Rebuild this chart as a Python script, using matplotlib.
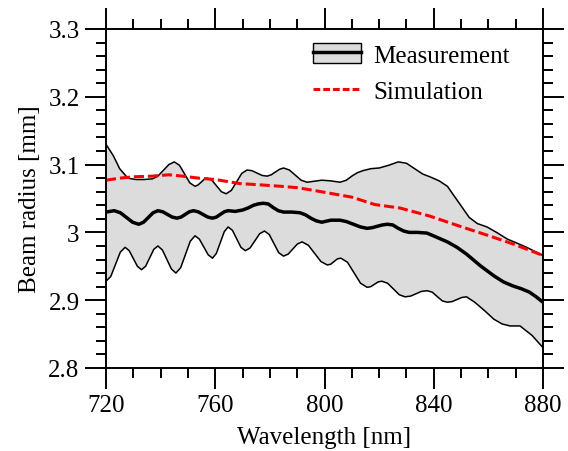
import matplotlib
matplotlib.use("Agg")
import matplotlib.pyplot as plt
from matplotlib.patches import Patch
from matplotlib.lines import Line2D
from matplotlib.ticker import MultipleLocator, FormatStrFormatter

plt.rcParams['font.family'] = ['Liberation Serif', 'DejaVu Serif']

wl_upper = [720, 722.7, 725, 728, 731, 734, 737, 739, 741, 743, 745, 746.9, 748.8,
            750.7, 752.6, 753.7, 754.8, 755.9, 757, 758.75, 760.5, 762.25, 764,
            765.9, 767.8, 769.7, 771.6, 773.45, 775.3, 777.15, 779, 780.5, 782,
            783.5, 785, 787.15, 789.3, 791.45, 793.6, 796.3, 799, 802.3, 805.7, 808,
            810, 812, 814, 817, 820, 823.5, 827, 830, 833, 836, 838.6, 842, 845,
            849, 853, 856, 859.5, 863, 867, 870, 874, 877, 880]
r_upper = [3.130, 3.113, 3.094, 3.080, 3.078, 3.078, 3.079, 3.083, 3.0915, 3.100,
           3.104, 3.099, 3.086, 3.073, 3.068, 3.070, 3.074, 3.078, 3.080, 3.077,
           3.0685, 3.060, 3.057, 3.062, 3.0745, 3.087, 3.092, 3.091, 3.0875, 3.084,
           3.083, 3.085, 3.089, 3.093, 3.095, 3.092, 3.0845, 3.077, 3.074, 3.0755,
           3.077, 3.076, 3.074, 3.077, 3.083, 3.088, 3.091, 3.094, 3.095, 3.099,
           3.104, 3.102, 3.094, 3.086, 3.082, 3.076, 3.068, 3.045, 3.022, 3.013,
           3.008, 3.000, 2.990, 2.985, 2.978, 2.972, 2.966]

# measurement band, lower edge
wl_lower = [720, 721.75, 723.5, 725.25, 727, 728.5, 730, 731.5, 733, 734.5, 736,
            737.5, 739, 740.65, 742.3, 743.95, 745.6, 747.35, 749.1, 750.85, 752.6,
            754.2, 755.8, 757.4, 759, 760.4, 761.85, 763.3, 764.7, 766.3, 767.85,
            769.4, 771, 772.75, 774.5, 776.25, 778, 779.75, 781.5, 783.25, 785,
            786.7, 788.4, 790.1, 791.8, 794.1, 796.4, 798.7, 801, 802.25, 803.5,
            804.75, 806, 808.4, 810.8, 813.2, 815.6, 816.95, 818.3, 819.65, 821,
            823.1, 825.25, 827.4, 829.5, 831.5, 833.5, 835.5, 837.5, 839.4, 841.25,
            843.1, 845, 846.75, 848.5, 850.25, 852, 855, 858.5, 862, 865, 868,
            871.6, 876, 880]
r_lower = [2.928, 2.935, 2.953, 2.971, 2.978, 2.973, 2.9615, 2.950, 2.945, 2.950,
           2.9625, 2.975, 2.980, 2.974, 2.960, 2.946, 2.940, 2.948, 2.9675, 2.987,
           2.995, 2.990, 2.9785, 2.967, 2.962, 2.969, 2.985, 3.001, 3.008, 3.003,
           2.9905, 2.978, 2.973, 2.977, 2.9875, 2.998, 3.002, 2.997, 2.9835, 2.970,
           2.965, 2.968, 2.9755, 2.983, 2.986, 2.981, 2.969, 2.957, 2.952, 2.953,
           2.957, 2.961, 2.962, 2.956, 2.9405, 2.925, 2.919, 2.920, 2.9235, 2.927,
           2.928, 2.925, 2.9165, 2.908, 2.905, 2.906, 2.9095, 2.913, 2.914, 2.912,
           2.9055, 2.899, 2.897, 2.898, 2.901, 2.904, 2.905, 2.897, 2.885, 2.872,
           2.865, 2.862, 2.862, 2.848, 2.830]

# measurement mean
wl_mean = [720, 723, 725.25, 727.5, 729.75, 732, 733.75, 735.5, 737.25, 739,
           740.75, 742.5, 744.25, 746, 747.5, 749, 750.5, 752, 753.75, 755.5,
           757.25, 759, 760.4, 761.85, 763.3, 764.7, 767.3, 770, 772, 774, 775.7,
           777.5, 779.4, 781.25, 783.1, 785, 788, 791, 793, 795, 797, 799, 802.3,
           805.7, 808, 810.6, 813.2, 815.6, 817.5, 819.3, 821.2, 823, 825, 827, 829,
           831, 834, 837.5, 841, 845, 848.5, 852, 857, 862, 865.5, 869, 872, 875,
           877.5, 880]
r_mean = [3.030, 3.032, 3.029, 3.022, 3.015, 3.012, 3.015, 3.022, 3.029, 3.032,
          3.0304, 3.0265, 3.0226, 3.021, 3.0226, 3.0265, 3.0304, 3.032, 3.0304,
          3.0265, 3.0226, 3.021, 3.0226, 3.0265, 3.0304, 3.032, 3.031, 3.033,
          3.036, 3.040, 3.042, 3.043, 3.042, 3.0365, 3.032, 3.030, 3.030, 3.029,
          3.026, 3.021, 3.017, 3.015, 3.018, 3.018, 3.016, 3.012, 3.008, 3.006,
          3.007, 3.009, 3.011, 3.012, 3.011, 3.006, 3.002, 3.000, 3.000, 2.999,
          2.993, 2.986, 2.978, 2.968, 2.951, 2.936, 2.927, 2.921, 2.917, 2.912,
          2.905, 2.897]

# simulation
wl_sim = [720, 725, 730, 737, 743, 748, 754, 760, 769, 777, 784, 790, 796, 803, 810,
          818.5, 827.6, 838.6, 849.6, 859.5, 869, 880]
r_sim = [3.077, 3.080, 3.082, 3.083, 3.085, 3.083, 3.080, 3.078, 3.072, 3.070,
         3.068, 3.066, 3.062, 3.057, 3.052, 3.041, 3.036, 3.024, 3.009, 2.996,
         2.983, 2.966]

fs = 18
fig = plt.figure(figsize=(5.68, 4.52), dpi=100)
ax = fig.add_axes([106/568, 1-369/452, 437/568, 339/452])

# band: upper edge forward, lower edge back
ax.fill(wl_upper + wl_lower[::-1], r_upper + r_lower[::-1],
        facecolor='#dcdcdc', edgecolor='none')
ax.plot(wl_upper, r_upper, color='black', lw=1.1, solid_joinstyle='round')
ax.plot(wl_lower, r_lower, color='black', lw=1.1, solid_joinstyle='round')
ax.plot(wl_mean, r_mean, color='black', lw=2.5, solid_joinstyle='round')
ax.plot(wl_sim, r_sim, color='red', lw=2.2, dashes=(3.3, 1.3))

ax.set_xlim(720, 880)
ax.set_ylim(2.8, 3.3)
ax.xaxis.set_major_locator(MultipleLocator(40))
ax.xaxis.set_minor_locator(MultipleLocator(10))
ax.yaxis.set_major_locator(MultipleLocator(0.1))
ax.yaxis.set_minor_locator(MultipleLocator(0.02))
ax.yaxis.set_major_formatter(FormatStrFormatter('%g'))
ax.tick_params(which='both', direction='out', top=True, right=True, width=1.4,
               labelsize=fs, pad=4)
ax.tick_params(which='major', length=15)
ax.tick_params(which='minor', length=7.5)
for s in ax.spines.values():
    s.set_linewidth(1.4)

ax.set_xlabel('Wavelength [nm]', fontsize=fs, labelpad=7)
ax.set_ylabel('Beam radius [mm]', fontsize=fs, labelpad=5)

h_meas = (Patch(facecolor='#dcdcdc', edgecolor='black', lw=1.0),
          Line2D([], [], color='black', lw=2.5))
h_sim = Line2D([], [], color='red', lw=2.2, dashes=(2.2, 1.0))
ax.legend([h_meas, h_sim], ['Measurement', 'Simulation'], loc='upper left',
          bbox_to_anchor=(0.474, 0.96), frameon=False, fontsize=fs,
          borderpad=0, borderaxespad=0, handlelength=1.9, handletextpad=0.5,
          handleheight=0.9, labelspacing=0.5)

fig.savefig('out.png', dpi=100)
